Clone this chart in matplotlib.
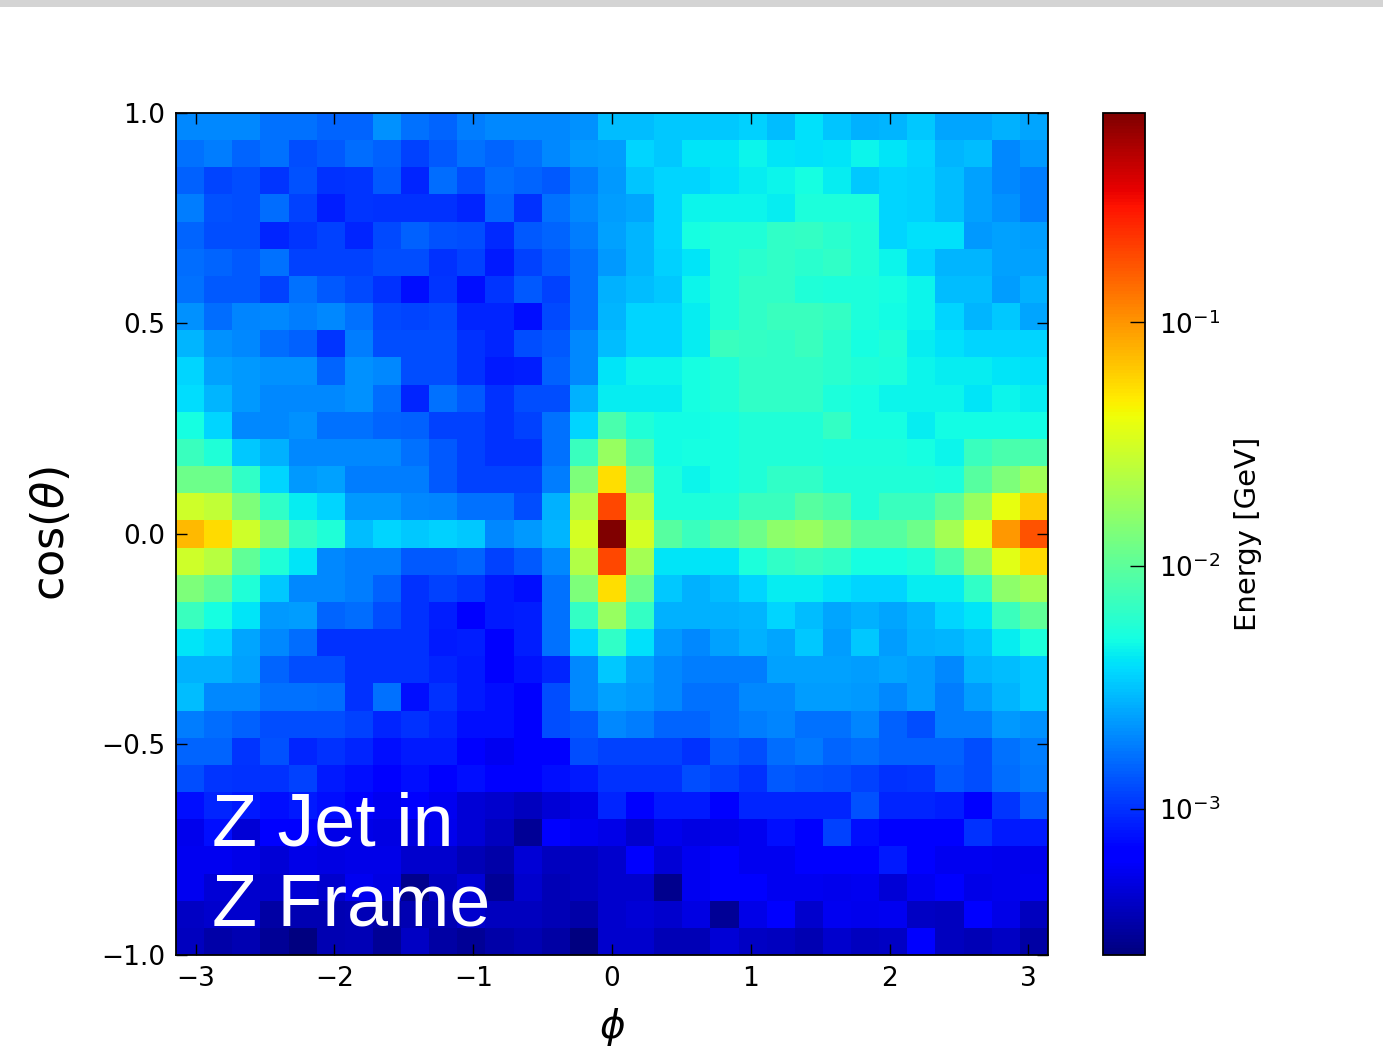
import numpy as np
import matplotlib
matplotlib.use("Agg")
import matplotlib.pyplot as plt
from matplotlib.colors import LogNorm
from matplotlib.patches import Rectangle

# log10 of deposited energy [GeV] per (cos(theta), phi) bin.
# Rows run from cos(theta) = +1 (first row) down to -1 (last row);
# columns run from phi = -pi to +pi.
log10_energy = [
    [-2.70,-2.70,-2.70,-2.78,-2.78,-2.82,-2.82,-2.68,-2.78,-2.82,-2.74,-2.70,-2.70,-2.70,-2.67,-2.52,-2.52,-2.48,-2.48,-2.48,-2.46,-2.52,-2.41,-2.50,-2.57,-2.55,-2.48,-2.60,-2.60,-2.57,-2.60],
    [-2.78,-2.74,-2.82,-2.78,-2.91,-2.87,-2.80,-2.84,-2.95,-2.87,-2.78,-2.82,-2.78,-2.70,-2.65,-2.63,-2.44,-2.48,-2.39,-2.39,-2.34,-2.39,-2.41,-2.39,-2.34,-2.39,-2.44,-2.55,-2.52,-2.70,-2.65],
    [-2.84,-2.93,-2.91,-2.98,-2.89,-3.00,-2.98,-2.87,-3.04,-2.80,-2.91,-2.80,-2.82,-2.87,-2.74,-2.65,-2.50,-2.44,-2.44,-2.41,-2.37,-2.34,-2.29,-2.37,-2.48,-2.44,-2.46,-2.52,-2.62,-2.70,-2.74],
    [-2.74,-2.89,-2.91,-2.80,-2.95,-3.07,-2.98,-3.00,-3.00,-3.00,-3.04,-2.82,-3.00,-2.78,-2.70,-2.63,-2.60,-2.44,-2.34,-2.34,-2.34,-2.37,-2.27,-2.27,-2.27,-2.44,-2.46,-2.52,-2.62,-2.67,-2.74],
    [-2.82,-2.91,-2.91,-3.04,-2.98,-2.95,-3.04,-2.92,-2.84,-2.89,-2.91,-3.02,-2.87,-2.82,-2.74,-2.62,-2.55,-2.44,-2.29,-2.25,-2.25,-2.19,-2.17,-2.22,-2.25,-2.44,-2.41,-2.41,-2.65,-2.62,-2.63],
    [-2.80,-2.82,-2.87,-2.78,-2.95,-2.95,-2.95,-2.91,-2.91,-3.00,-2.95,-3.08,-2.95,-2.87,-2.78,-2.65,-2.55,-2.46,-2.39,-2.25,-2.22,-2.19,-2.22,-2.19,-2.25,-2.34,-2.44,-2.55,-2.55,-2.62,-2.62],
    [-2.78,-2.87,-2.87,-2.95,-2.78,-2.87,-2.92,-3.00,-3.12,-2.98,-3.12,-2.98,-2.87,-2.95,-2.78,-2.57,-2.52,-2.48,-2.34,-2.25,-2.19,-2.19,-2.25,-2.27,-2.27,-2.29,-2.34,-2.52,-2.52,-2.63,-2.57],
    [-2.67,-2.80,-2.72,-2.70,-2.74,-2.70,-2.78,-2.92,-2.93,-2.92,-3.04,-3.04,-3.12,-2.92,-2.78,-2.55,-2.44,-2.44,-2.36,-2.25,-2.19,-2.15,-2.15,-2.17,-2.27,-2.31,-2.34,-2.44,-2.55,-2.48,-2.60],
    [-2.55,-2.67,-2.70,-2.80,-2.84,-2.98,-2.74,-2.91,-2.91,-2.91,-3.00,-3.04,-2.91,-2.87,-2.70,-2.52,-2.44,-2.44,-2.36,-2.15,-2.17,-2.19,-2.15,-2.22,-2.29,-2.25,-2.36,-2.41,-2.44,-2.44,-2.44],
    [-2.45,-2.62,-2.65,-2.67,-2.67,-2.82,-2.67,-2.70,-2.91,-2.91,-3.00,-3.08,-3.07,-2.84,-2.70,-2.39,-2.34,-2.34,-2.29,-2.25,-2.19,-2.19,-2.19,-2.22,-2.25,-2.27,-2.34,-2.37,-2.37,-2.39,-2.41],
    [-2.42,-2.55,-2.65,-2.70,-2.70,-2.70,-2.67,-2.80,-3.04,-2.78,-2.87,-3.00,-2.91,-2.91,-2.57,-2.37,-2.37,-2.37,-2.29,-2.25,-2.19,-2.19,-2.19,-2.27,-2.29,-2.34,-2.34,-2.34,-2.39,-2.34,-2.37],
    [-2.30,-2.45,-2.70,-2.70,-2.67,-2.78,-2.78,-2.82,-2.84,-2.95,-2.95,-3.00,-2.95,-2.78,-2.44,-2.08,-2.25,-2.31,-2.31,-2.29,-2.25,-2.25,-2.25,-2.17,-2.29,-2.29,-2.37,-2.31,-2.31,-2.31,-2.31],
    [-2.15,-2.25,-2.48,-2.57,-2.70,-2.70,-2.70,-2.70,-2.78,-2.87,-2.95,-3.00,-3.00,-2.78,-2.15,-1.75,-2.08,-2.31,-2.29,-2.29,-2.25,-2.25,-2.25,-2.27,-2.27,-2.27,-2.29,-2.34,-2.15,-2.08,-2.08],
    [-1.93,-1.93,-2.19,-2.44,-2.65,-2.62,-2.74,-2.74,-2.74,-2.87,-2.95,-2.95,-2.95,-2.74,-1.87,-1.27,-1.87,-2.27,-2.34,-2.29,-2.25,-2.19,-2.19,-2.25,-2.25,-2.25,-2.25,-2.27,-2.03,-1.87,-1.72],
    [-1.53,-1.58,-1.87,-2.19,-2.36,-2.44,-2.65,-2.65,-2.70,-2.72,-2.78,-2.78,-2.91,-2.57,-1.65,-0.72,-1.62,-2.27,-2.27,-2.25,-2.15,-2.15,-2.03,-2.08,-2.25,-2.15,-2.15,-1.98,-1.75,-1.42,-1.20],
    [-1.13,-1.25,-1.53,-1.87,-2.17,-2.25,-2.52,-2.44,-2.48,-2.46,-2.48,-2.70,-2.65,-2.55,-1.50,-0.14,-1.50,-2.03,-2.15,-2.03,-1.93,-1.80,-1.75,-1.87,-2.03,-2.03,-1.93,-1.70,-1.43,-1.01,-0.76],
    [-1.53,-1.62,-1.98,-2.25,-2.39,-2.70,-2.74,-2.74,-2.87,-2.87,-2.82,-2.95,-2.87,-2.70,-1.65,-0.72,-1.70,-2.39,-2.39,-2.39,-2.27,-2.19,-2.15,-2.19,-2.29,-2.29,-2.25,-2.08,-1.80,-1.45,-1.25],
    [-1.87,-1.98,-2.25,-2.48,-2.70,-2.70,-2.74,-2.84,-3.00,-2.95,-2.98,-3.08,-3.12,-2.78,-1.87,-1.27,-1.93,-2.48,-2.57,-2.52,-2.44,-2.36,-2.36,-2.41,-2.44,-2.44,-2.37,-2.36,-2.19,-1.80,-1.70],
    [-2.15,-2.29,-2.39,-2.65,-2.63,-2.82,-2.80,-2.91,-3.00,-3.07,-3.20,-3.08,-3.07,-2.78,-2.17,-1.75,-2.17,-2.57,-2.57,-2.57,-2.55,-2.44,-2.52,-2.60,-2.57,-2.60,-2.55,-2.44,-2.39,-2.15,-1.98],
    [-2.39,-2.44,-2.60,-2.70,-2.80,-3.00,-3.00,-3.00,-3.00,-3.08,-3.07,-3.17,-3.07,-2.78,-2.44,-2.19,-2.41,-2.65,-2.70,-2.62,-2.57,-2.60,-2.48,-2.63,-2.48,-2.63,-2.57,-2.55,-2.50,-2.37,-2.27],
    [-2.57,-2.57,-2.62,-2.82,-2.91,-2.91,-3.00,-3.00,-3.00,-3.04,-3.08,-3.20,-3.10,-3.04,-2.70,-2.48,-2.62,-2.70,-2.74,-2.74,-2.74,-2.62,-2.62,-2.62,-2.63,-2.60,-2.63,-2.70,-2.55,-2.52,-2.48],
    [-2.52,-2.70,-2.70,-2.78,-2.78,-2.80,-3.00,-2.78,-3.12,-3.00,-3.08,-3.12,-3.17,-2.91,-2.70,-2.62,-2.65,-2.70,-2.78,-2.78,-2.70,-2.70,-2.63,-2.63,-2.65,-2.70,-2.63,-2.74,-2.63,-2.55,-2.48],
    [-2.74,-2.80,-2.84,-2.91,-2.91,-2.91,-2.95,-3.04,-3.00,-3.04,-3.12,-3.12,-3.20,-2.91,-2.87,-2.70,-2.74,-2.82,-2.82,-2.78,-2.74,-2.72,-2.78,-2.78,-2.72,-2.84,-2.91,-2.74,-2.74,-2.65,-2.67],
    [-2.82,-2.82,-2.98,-2.89,-3.04,-3.00,-3.04,-3.12,-3.08,-3.08,-3.20,-3.25,-3.22,-3.20,-2.91,-2.95,-2.95,-2.95,-3.00,-2.87,-2.91,-2.80,-2.76,-2.82,-2.80,-2.84,-2.84,-2.84,-2.91,-2.78,-2.74],
    [-2.91,-2.98,-3.00,-3.00,-2.95,-3.08,-3.12,-3.20,-3.12,-3.20,-3.12,-3.20,-3.20,-3.12,-3.08,-3.00,-3.00,-3.00,-2.91,-2.95,-3.00,-2.87,-2.89,-2.91,-2.95,-3.00,-2.98,-2.87,-2.91,-2.80,-2.76],
    [-3.12,-3.04,-3.08,-3.12,-3.08,-3.12,-3.22,-3.25,-3.17,-3.26,-3.33,-3.36,-3.41,-3.33,-3.28,-3.04,-3.20,-3.08,-3.08,-3.22,-3.04,-3.04,-3.04,-3.04,-2.89,-3.04,-3.04,-3.07,-3.17,-2.98,-2.87],
    [-3.27,-3.12,-3.33,-3.17,-3.17,-3.28,-3.28,-3.30,-3.31,-3.27,-3.33,-3.41,-3.52,-3.20,-3.25,-3.28,-3.36,-3.27,-3.30,-3.28,-3.25,-3.12,-3.20,-2.95,-3.12,-3.20,-3.20,-3.20,-3.00,-3.08,-3.08],
    [-3.25,-3.25,-3.28,-3.33,-3.28,-3.30,-3.28,-3.28,-3.36,-3.37,-3.43,-3.47,-3.33,-3.41,-3.41,-3.37,-3.20,-3.33,-3.25,-3.22,-3.25,-3.25,-3.22,-3.22,-3.22,-3.08,-3.22,-3.25,-3.25,-3.27,-3.27],
    [-3.25,-3.33,-3.36,-3.37,-3.33,-3.36,-3.25,-3.30,-3.55,-3.41,-3.33,-3.52,-3.37,-3.43,-3.41,-3.37,-3.37,-3.55,-3.25,-3.22,-3.20,-3.25,-3.25,-3.27,-3.25,-3.33,-3.25,-3.22,-3.28,-3.27,-3.25],
    [-3.39,-3.37,-3.37,-3.48,-3.45,-3.45,-3.43,-3.48,-3.45,-3.45,-3.37,-3.41,-3.41,-3.43,-3.47,-3.36,-3.33,-3.36,-3.30,-3.52,-3.28,-3.20,-3.37,-3.25,-3.27,-3.25,-3.39,-3.41,-3.20,-3.28,-3.41],
    [-3.41,-3.47,-3.45,-3.52,-3.60,-3.45,-3.43,-3.52,-3.39,-3.48,-3.52,-3.47,-3.45,-3.48,-3.60,-3.37,-3.37,-3.43,-3.43,-3.33,-3.39,-3.41,-3.45,-3.37,-3.41,-3.39,-3.20,-3.41,-3.43,-3.39,-3.48],
]

x_ticks = [-3, -2, -1, 0, 1, 2, 3]
y_ticks = [-1.0, -0.5, 0.0, 0.5, 1.0]
label_lines = ["Z Jet in", "Z Frame"]

energy = 10.0 ** np.flipud(np.array(log10_energy))   # bottom row first
n_cos, n_phi = energy.shape
phi_edges = np.linspace(-np.pi, np.pi, n_phi + 1)
cos_edges = np.linspace(-1.0, 1.0, n_cos + 1)

W, H = 1383, 1058
fig = plt.figure(figsize=(W / 100, H / 100), dpi=100)
fig.patches.append(Rectangle((0, 1 - 7 / H), 1, 7 / H, transform=fig.transFigure,
                             facecolor="#d4d4d4", edgecolor="none"))

ax = fig.add_axes([176 / W, 1 - 955 / H, 872 / W, 842 / H])
cax = fig.add_axes([1103 / W, 1 - 955 / H, 42 / W, 842 / H])

norm = LogNorm(vmin=10 ** -3.6, vmax=10 ** -0.14)
mesh = ax.pcolormesh(phi_edges, cos_edges, energy, cmap="jet", norm=norm)

ax.set_xlim(-np.pi, np.pi)
ax.set_ylim(-1, 1)
ax.set_xticks(x_ticks)
ax.set_yticks(y_ticks)
ax.tick_params(direction="in", top=True, right=True, length=8, width=1,
               labelsize=19, pad=8)
for s in ax.spines.values():
    s.set_linewidth(1.3)

ax.set_xlabel(r"$\phi$", fontsize=28, labelpad=10)
ax.set_ylabel(r"cos($\theta$)", fontsize=32, labelpad=20)

x_text = (212 - 176) / 872
ax.text(x_text, (955 - 845) / 842, label_lines[0],
        transform=ax.transAxes, color="white", fontsize=53,
        family="Liberation Sans", va="baseline", ha="left")
ax.text(x_text, (955 - 925) / 842, label_lines[1],
        transform=ax.transAxes, color="white", fontsize=53,
        family="Liberation Sans", va="baseline", ha="left")

cb = fig.colorbar(mesh, cax=cax)
cb.ax.minorticks_off()
cb.ax.tick_params(direction="in", length=11, width=1, labelsize=19, pad=10)
cb.outline.set_linewidth(1.3)
cb.set_label("Energy [GeV]", fontsize=21, labelpad=10)

fig.savefig("out.png", dpi=100)
